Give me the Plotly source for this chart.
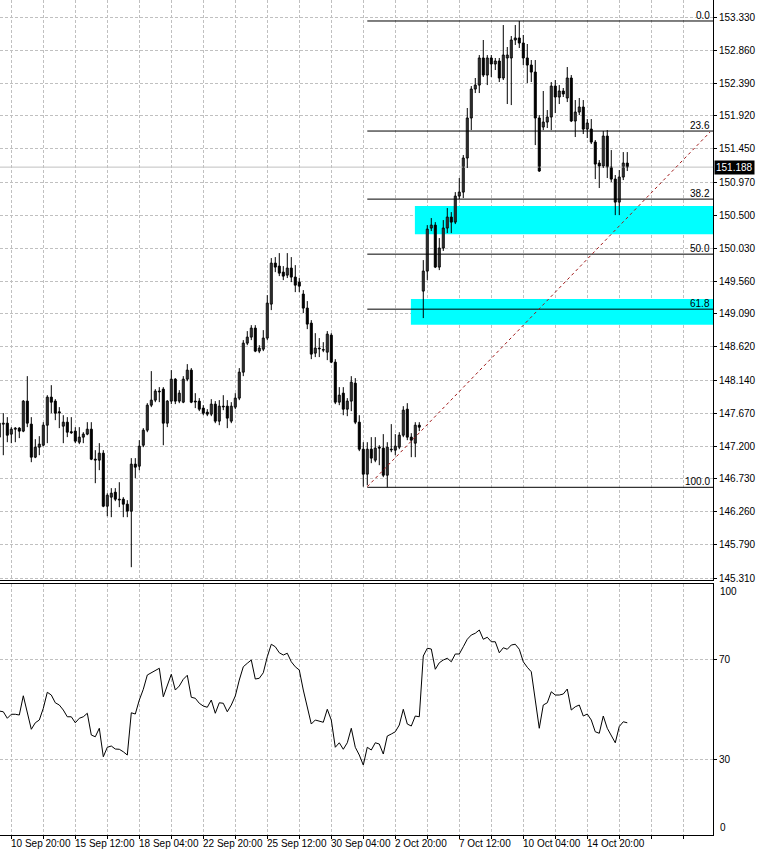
import plotly.graph_objects as go

# ---------------- data (USDJPY H4) ----------------
bar_index = list(range(-1, 157))

opens = [147.328, 147.514, 147.528, 147.371, 147.442, 147.457, 147.414, 147.843, 147.514, 147.042,
         147.185, 147.213, 147.499, 147.900, 147.843, 147.690, 147.485, 147.542, 147.405, 147.414,
         147.256, 147.328, 147.371, 147.442, 147.013, 146.999, 147.099, 146.341, 146.470, 146.541,
         146.441, 146.441, 146.370, 146.270, 146.942, 146.913, 147.213, 147.428, 147.785, 147.857,
         147.986, 148.014, 147.528, 147.843, 148.157, 147.843, 147.828, 148.157, 148.286, 147.843,
         147.843, 147.743, 147.685, 147.657, 147.800, 147.557, 147.771, 147.771, 147.557, 147.757,
         147.886, 148.257, 148.672, 148.758, 148.887, 148.558, 148.586, 148.744, 149.230, 149.816,
         149.773, 149.687, 149.644, 149.745, 149.616, 149.544, 149.373, 149.173, 148.958, 148.529,
         148.601, 148.580, 148.543, 148.786, 148.400, 147.828, 147.957, 147.728, 147.843, 148.100,
         147.542, 147.156, 146.799, 147.156, 146.999, 147.185, 147.171, 146.784, 147.156, 147.142,
         147.185, 147.356, 147.728, 147.328, 147.242, 147.499, 149.416, 149.702, 150.317, 150.359,
         149.759, 150.031, 150.317, 150.474, 150.402, 150.774, 150.831, 151.318, 151.890, 152.304,
         152.361, 152.748, 152.504, 152.748, 152.662, 152.705, 152.462, 152.748, 152.748, 153.005,
         153.034, 152.962, 152.748, 152.647, 152.547, 151.890, 151.761, 151.832, 151.904, 152.347,
         152.190, 152.276, 152.176, 152.462, 151.847, 151.975, 152.047, 151.732, 151.732, 151.546,
         151.246, 151.203, 151.632, 151.189, 151.017, 150.688, 151.046, 151.246]

highs = [147.642, 147.671, 147.614, 147.471, 147.471, 147.471, 147.857, 148.200, 147.614, 147.299,
         147.342, 147.542, 147.928, 148.071, 147.871, 147.757, 147.642, 147.614, 147.614, 147.471,
         147.471, 147.399, 147.542, 147.542, 147.142, 147.242, 147.142, 146.527, 146.599, 146.599,
         146.684, 146.470, 146.427, 147.028, 147.028, 147.285, 147.457, 147.814, 148.272, 148.014,
         148.043, 148.043, 147.857, 148.286, 148.172, 148.000, 148.200, 148.372, 148.315, 147.957,
         147.886, 147.785, 147.728, 147.871, 147.843, 147.857, 147.928, 147.857, 147.828, 147.957,
         148.315, 148.715, 148.844, 148.929, 148.929, 148.643, 148.858, 149.358, 149.888, 149.902,
         149.959, 149.773, 149.959, 149.902, 149.787, 149.602, 149.430, 149.273, 149.001, 148.815,
         148.744, 148.686, 148.844, 148.815, 148.443, 148.043, 148.043, 147.886, 148.200, 148.172,
         147.642, 147.256, 147.256, 147.328, 147.328, 147.213, 147.371, 147.256, 147.514, 147.371,
         147.399, 147.771, 147.814, 147.385, 147.542, 147.542, 149.859, 150.359, 150.460, 150.402,
         150.174, 150.431, 150.603, 150.545, 150.831, 151.032, 151.361, 152.033, 152.347, 152.462,
         152.790, 153.005, 152.790, 152.790, 152.748, 152.748, 153.219, 152.905, 153.062, 153.219,
         153.277, 153.077, 152.948, 152.719, 152.719, 151.932, 152.276, 152.004, 152.404, 152.433,
         152.361, 152.319, 152.619, 152.504, 152.147, 152.176, 152.147, 151.875, 151.875, 151.575,
         151.289, 151.704, 151.718, 151.432, 151.075, 151.146, 151.403, 151.403]

lows = [147.285, 147.070, 147.256, 147.242, 147.256, 147.314, 147.399, 147.471, 146.970, 147.028,
        147.070, 147.199, 147.242, 147.671, 147.571, 147.457, 147.242, 147.328, 147.375, 147.242,
        147.228, 147.242, 147.356, 146.999, 146.670, 146.856, 146.327, 146.198, 146.184, 146.413,
        146.327, 146.184, 146.184, 145.469, 146.742, 146.856, 147.185, 147.399, 147.757, 147.828,
        147.828, 147.213, 147.471, 147.800, 147.800, 147.814, 147.814, 148.128, 147.814, 147.743,
        147.700, 147.642, 147.628, 147.628, 147.528, 147.499, 147.714, 147.457, 147.528, 147.728,
        147.857, 148.200, 148.643, 148.715, 148.543, 148.529, 148.558, 148.715, 149.144, 149.687,
        149.630, 149.573, 149.602, 149.544, 149.401, 149.401, 149.101, 148.872, 148.443, 148.472,
        148.472, 148.543, 148.429, 148.386, 147.800, 147.785, 147.642, 147.628, 147.700, 147.514,
        147.128, 146.620, 146.640, 146.956, 146.970, 146.927, 146.756, 146.611, 147.113, 147.070,
        147.156, 147.328, 147.285, 147.042, 147.042, 147.414, 149.030, 149.573, 150.274, 149.745,
        149.716, 149.990, 150.245, 150.245, 150.374, 150.731, 150.746, 151.175, 151.718, 152.247,
        152.247, 152.476, 152.361, 152.476, 152.576, 152.404, 152.433, 152.090, 152.075, 152.934,
        152.891, 152.647, 152.390, 152.404, 151.503, 151.120, 151.718, 151.747, 151.718, 151.961,
        152.090, 152.190, 152.118, 151.832, 151.618, 151.932, 151.661, 151.604, 151.518, 151.017,
        150.889, 151.175, 151.032, 150.974, 150.502, 150.502, 151.003, 151.132]

closes = [147.528, 147.528, 147.356, 147.442, 147.457, 147.414, 147.843, 147.528, 147.042, 147.185,
          147.228, 147.499, 147.900, 147.828, 147.671, 147.675, 147.542, 147.399, 147.390, 147.271,
          147.328, 147.371, 147.442, 147.013, 147.000, 147.099, 146.341, 146.498, 146.527, 146.441,
          146.430, 146.370, 146.270, 146.942, 146.899, 147.199, 147.428, 147.785, 147.857, 147.986,
          147.975, 147.528, 147.843, 148.157, 147.843, 147.957, 148.157, 148.286, 147.828, 147.830,
          147.728, 147.671, 147.657, 147.800, 147.557, 147.771, 147.760, 147.600, 147.771, 147.886,
          148.257, 148.672, 148.758, 148.887, 148.558, 148.601, 148.744, 149.244, 149.816, 149.759,
          149.673, 149.630, 149.745, 149.616, 149.501, 149.487, 149.173, 148.944, 148.515, 148.601,
          148.590, 148.572, 148.801, 148.400, 147.828, 147.928, 147.728, 147.843, 148.114, 147.542,
          147.156, 146.799, 147.156, 147.028, 147.171, 147.171, 146.784, 147.185, 147.145, 147.199,
          147.356, 147.714, 147.328, 147.285, 147.499, 147.471, 149.702, 150.302, 150.359, 149.759,
          150.031, 150.317, 150.474, 150.402, 150.774, 150.831, 151.318, 151.890, 152.304, 152.361,
          152.748, 152.504, 152.748, 152.662, 152.705, 152.462, 152.790, 152.790, 153.005, 153.034,
          152.962, 152.748, 152.647, 152.547, 151.890, 151.132, 151.832, 151.904, 152.347, 152.190,
          152.276, 152.233, 152.462, 151.847, 151.975, 152.047, 151.732, 151.818, 151.546, 151.232,
          151.203, 151.632, 151.189, 151.017, 150.688, 151.046, 151.246, 151.188]

rsi = [49.3, 49, 46.4, 48, 48, 47.7, 55.4, 48.6, 42, 44.6,
       45.7, 50.4, 56.8, 55.7, 52.6, 51.7, 49.7, 47, 47, 44.6,
       46.4, 47, 48.4, 39.7, 39, 42.4, 31, 34.8, 35.3, 34.1,
       34, 33, 31.7, 48.6, 48.1, 53.7, 58, 63.7, 64.6, 65.7,
       66.4, 55, 59.7, 64, 57.7, 59.3, 62, 63.6, 54.8, 54.4,
       52.4, 51.3, 50.8, 53.7, 48.4, 52.6, 52.4, 49, 51.7, 55.3,
       61.7, 67, 68.4, 69.7, 62.1, 62.4, 64.6, 71, 76, 75,
       72.6, 71.7, 72.4, 69, 67, 65.7, 57.7, 51, 44.1, 45.7,
       45.3, 44.8, 50, 45.7, 34.8, 36.6, 34, 36.6, 42.4, 34.8,
       31.7, 27.7, 34.8, 33.7, 36.6, 36.1, 32.1, 39.3, 40.1, 41,
       43.7, 50, 44.1, 43.3, 47.3, 47, 71.3, 74.4, 74.1, 66,
       68.6, 69.7, 70.4, 69, 72.1, 72.1, 75, 78, 79.7, 80.4,
       81.7, 78, 78.8, 77, 77, 72.6, 74.6, 74, 75.7, 76,
       74, 69, 66.8, 65, 53.7, 42.4, 51.7, 52.6, 57, 55.7,
       55.7, 56.1, 58.1, 49.7, 51, 51.7, 47.3, 48.1, 45.7, 41,
       40.4, 47.3, 42.4, 39.7, 36.6, 43.1, 45, 44.6]

time_labels = ["10 Sep 20:00", "15 Sep 12:00", "18 Sep 04:00", "22 Sep 20:00", "25 Sep 12:00",
               "30 Sep 04:00", "2 Oct 20:00", "7 Oct 12:00", "10 Oct 04:00", "14 Oct 20:00"]
time_label_index = [2, 18, 34, 50, 66, 82, 98, 114, 130, 146]
grid_index = [2 + 8 * j for j in range(22)]

price_ticks = [153.330, 152.860, 152.390, 151.920, 151.450, 150.970, 150.500, 150.030, 149.560,
               149.090, 148.620, 148.140, 147.670, 147.200, 146.730, 146.260, 145.790, 145.310]
rsi_ticks = [30, 70]

fib_high = 153.277
fib_low = 146.611
fib_levels = [0.0, 23.6, 38.2, 50.0, 61.8, 100.0]
fib_start_index = 91

zone_start_index = [102.9, 101.9]
zone_low = [150.227, 148.935]
zone_high = [150.632, 149.302]

trend_x = [91, 176.7]
trend_y = [146.62, 151.69]

last_price = 151.188

# ---------------- figure ----------------
X_MIN, X_MAX = -0.825, 177.43
FONT = "Liberation Sans"
GRID = "#c0c0c0"

fig = go.Figure()

# current price line
fig.add_trace(go.Scatter(x=[X_MIN - 5, X_MAX + 5], y=[last_price, last_price], mode="lines",
                         line=dict(color=GRID, width=1), hoverinfo="skip", showlegend=False))

# fibonacci levels
for lvl in fib_levels:
    p = fib_high - (fib_high - fib_low) * lvl / 100.0
    fig.add_trace(go.Scatter(x=[fib_start_index, X_MAX + 5], y=[p, p], mode="lines",
                             line=dict(color="black", width=1), hoverinfo="skip", showlegend=False))
    fig.add_annotation(x=1, xref="paper", y=p, yref="y", text=f"{lvl:.1f}", showarrow=False,
                       xanchor="right", yanchor="bottom", xshift=-1, yshift=-2,
                       font=dict(family=FONT, size=10, color="black"))

# wicks
wx, wy = [], []
for k, h, l in zip(bar_index, highs, lows):
    wx += [k, k, None]
    wy += [l, h, None]
fig.add_trace(go.Scatter(x=wx, y=wy, mode="lines", line=dict(color="black", width=1),
                         hoverinfo="skip", showlegend=False))

# bodies
up = [i for i in range(len(bar_index)) if closes[i] >= opens[i]]
dn = [i for i in range(len(bar_index)) if closes[i] < opens[i]]
for idx, col in ((up, "white"), (dn, "black")):
    fig.add_trace(go.Bar(x=[bar_index[i] for i in idx],
                         y=[closes[i] - opens[i] for i in idx],
                         base=[opens[i] for i in idx],
                         width=0.5, marker=dict(color=col, line=dict(color="black", width=1)),
                         hoverinfo="skip", showlegend=False))

# trend line
fig.add_trace(go.Scatter(x=trend_x, y=trend_y, mode="lines",
                         line=dict(color="#a01818", width=1, dash="3px,3px"),
                         hoverinfo="skip", showlegend=False))

# RSI
fig.add_trace(go.Scatter(x=bar_index, y=rsi, mode="lines", line=dict(color="black", width=1),
                         xaxis="x2", yaxis="y2", hoverinfo="skip", showlegend=False))

# cyan zones
for xs, lo, hi in zip(zone_start_index, zone_low, zone_high):
    fig.add_shape(type="rect", xref="x", yref="y", x0=xs, x1=X_MAX, y0=lo, y1=hi,
                  fillcolor="#00ffff", line=dict(width=0), layer="between")

# current price tag
fig.add_annotation(x=1, xref="paper", y=last_price, yref="y", text=f"{last_price:.3f}",
                   showarrow=False, xanchor="left", xshift=1, bgcolor="black",
                   font=dict(family=FONT, size=10, color="white"), borderpad=1)

# RSI 100 / 0 labels
for val, txt in ((97.2, "100"), (2.6, "0")):
    fig.add_annotation(x=1, xref="paper", y=val, yref="y2", text=txt, showarrow=False,
                       xanchor="left", xshift=5, font=dict(family=FONT, size=10, color="black"))

# time labels
for k, txt in zip(time_label_index, time_labels):
    fig.add_annotation(x=k + 0.1, xref="x2", y=0, yref="paper", text=txt, showarrow=False,
                       xanchor="left", yanchor="top", xshift=-3, yshift=-1,
                       font=dict(family=FONT, size=10, color="black"))

grid_vals = [g + 0.1 for g in grid_index]
main_bottom = 1 - 580 / 835
rsi_top = 1 - 583.5 / 835

axis_common = dict(showgrid=True, gridcolor=GRID, griddash="3px,2px", gridwidth=1,
                   zeroline=False, fixedrange=True, automargin=False)

fig.update_layout(
    width=758, height=858,
    margin=dict(l=0, r=45, t=0, b=23),
    paper_bgcolor="white", plot_bgcolor="white",
    barmode="overlay", showlegend=False,
    font=dict(family=FONT, size=10, color="black"),
    xaxis=dict(domain=[0, 1], anchor="y", range=[X_MIN, X_MAX], tickmode="array",
               tickvals=grid_vals, showticklabels=False, ticks="",
               showline=True, linecolor="black", linewidth=1, **axis_common),
    xaxis2=dict(domain=[0, 1], anchor="y2", range=[X_MIN, X_MAX], matches="x", tickmode="array",
                tickvals=grid_vals, showticklabels=False, ticks="outside", ticklen=3,
                tickcolor="black", showline=True, mirror=True, linecolor="black", linewidth=1,
                **axis_common),
    yaxis=dict(domain=[main_bottom, 1], anchor="x", side="right", range=[145.286, 153.577],
               tickmode="array", tickvals=price_ticks, ticktext=[f"{v:.3f}" for v in price_ticks],
               ticks="outside", ticklen=3, tickcolor="black", showline=True, linecolor="black",
               linewidth=1, tickfont=dict(family=FONT, size=10, color="black"), **axis_common),
    yaxis2=dict(domain=[0, rsi_top], anchor="x2", side="right", range=[-0.28, 100.3],
                tickmode="array", tickvals=rsi_ticks, ticktext=[str(v) for v in rsi_ticks],
                ticks="outside", ticklen=3, tickcolor="black", showline=True, linecolor="black",
                linewidth=1, tickfont=dict(family=FONT, size=10, color="black"), **axis_common),
)

fig.write_html("out.html", config={"displayModeBar": False},
               post_script="document.body.style.margin='0';")
